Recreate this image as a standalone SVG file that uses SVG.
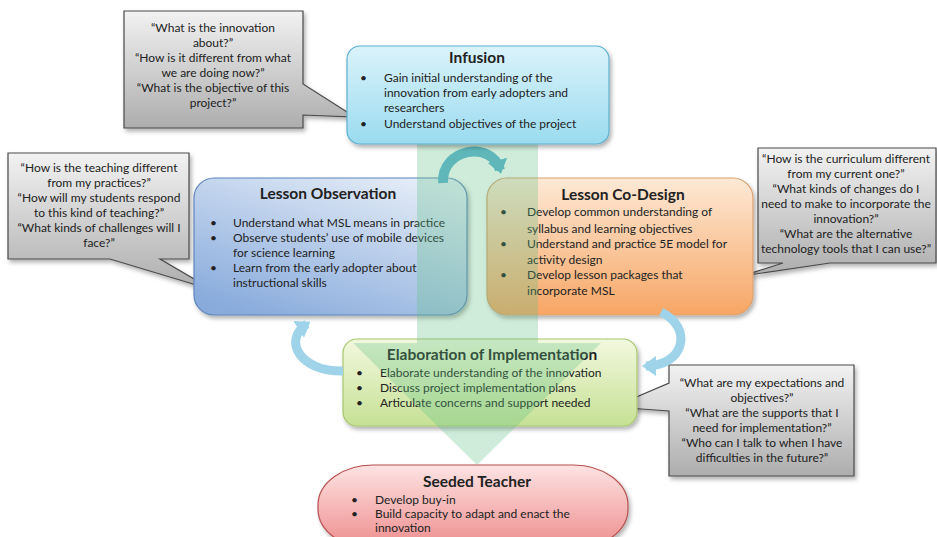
<svg xmlns="http://www.w3.org/2000/svg" width="937" height="537" viewBox="0 0 937 537">
<defs>
  <linearGradient id="gInf" x1="0" y1="0" x2="0" y2="1"><stop offset="0" stop-color="#dbf3fb"/><stop offset="1" stop-color="#9adbef"/></linearGradient>
  <linearGradient id="gObs" x1="0.8" y1="0" x2="0.2" y2="1"><stop offset="0" stop-color="#e4ecf7"/><stop offset="1" stop-color="#88abdc"/></linearGradient>
  <linearGradient id="gCo" x1="0" y1="0" x2="0" y2="1"><stop offset="0" stop-color="#fde9d6"/><stop offset="1" stop-color="#f7a665"/></linearGradient>
  <linearGradient id="gEl" x1="0" y1="0" x2="0" y2="1"><stop offset="0" stop-color="#f2f8de"/><stop offset="1" stop-color="#c6e195"/></linearGradient>
  <linearGradient id="gSd" x1="0" y1="0" x2="0" y2="1"><stop offset="0" stop-color="#fde3e3"/><stop offset="1" stop-color="#ee8c8c"/></linearGradient>
  <linearGradient id="gCall" x1="0" y1="0" x2="0" y2="1"><stop offset="0" stop-color="#f2f2f2"/><stop offset="1" stop-color="#adadad"/></linearGradient>
  <filter id="sh" x="-10%" y="-10%" width="130%" height="140%"><feDropShadow dx="2" dy="3" stdDeviation="2" flood-color="#000" flood-opacity="0.3"/></filter>
  <marker id="mTeal" markerUnits="userSpaceOnUse" markerWidth="22" markerHeight="22" refX="10" refY="11" orient="auto"><path d="M0 1 L14 11 L0 21 Z" fill="#5fb7b9"/></marker>
  <marker id="mBlue" markerUnits="userSpaceOnUse" markerWidth="22" markerHeight="22" refX="10" refY="11" orient="auto"><path d="M0 1 L14 11 L0 21 Z" fill="#9fd3ea"/></marker>
</defs>
<style>
  text{font-family:Lato,"Liberation Sans",sans-serif;fill:#222}
  .t{font-size:15.5px;font-weight:bold;text-anchor:middle}
  .b{font-size:12px}
  .c{font-size:12px;text-anchor:middle}
  .callout{fill:url(#gCall);stroke:#4a4a4a;stroke-width:1.2;filter:url(#sh)}
</style>
<rect width="937" height="537" fill="#fff"/>

<g id="callout-infusion">
  <path class="callout" d="M124 11 H303 V84 L355 117 L303 115 V128 H124 Z"/>
  <text class="c" x="213" y="32">“What is the innovation</text>
  <text class="c" x="213" y="47">about?”</text>
  <text class="c" x="213" y="62">“How is it different from what</text>
  <text class="c" x="213" y="77">we are doing now?”</text>
  <text class="c" x="213" y="92">“What is the objective of this</text>
  <text class="c" x="213" y="107">project?”</text>
</g>

<g id="callout-observation">
  <path class="callout" d="M8 153 H189 V259 H160 L213 290 L110 259 H8 Z"/>
  <text class="c" x="99" y="172">“How is the teaching different</text>
  <text class="c" x="99" y="187">from my practices?”</text>
  <text class="c" x="99" y="202">“How will my students respond</text>
  <text class="c" x="99" y="217">to this kind of teaching?”</text>
  <text class="c" x="99" y="232">“What kinds of challenges will I</text>
  <text class="c" x="99" y="247">face?”</text>
</g>

<g id="callout-codesign">
  <path class="callout" d="M758 148 H936 V263 H830 L742 276 L783 263 H758 Z"/>
  <text class="c" x="846" y="163">“How is the curriculum different</text>
  <text class="c" x="846" y="178">from my current one?”</text>
  <text class="c" x="846" y="193">“What kinds of changes do I</text>
  <text class="c" x="846" y="208">need to make to incorporate the</text>
  <text class="c" x="846" y="223">innovation?”</text>
  <text class="c" x="846" y="238">“What are the alternative</text>
  <text class="c" x="846" y="253">technology tools that I can use?”</text>
</g>

<g id="callout-elaboration">
  <path class="callout" d="M669 365 H854 V476 H669 V411 L613 407 L669 383 Z"/>
  <text class="c" x="762" y="387">“What are my expectations and</text>
  <text class="c" x="762" y="402">objectives?”</text>
  <text class="c" x="762" y="417">“What are the supports that I</text>
  <text class="c" x="762" y="432">need for implementation?”</text>
  <text class="c" x="762" y="447">“Who can I talk to when I have</text>
  <text class="c" x="762" y="462">difficulties in the future?”</text>
</g>

<g id="lesson-observation">
  <rect x="194" y="178" width="273" height="137" rx="20" fill="url(#gObs)" stroke="#5f86bb" stroke-width="1.2" filter="url(#sh)"/>
  <text class="t" x="328" y="199">Lesson Observation</text>
  <text class="b" x="210" y="227">•</text><text class="b" x="233" y="227">Understand what MSL means in practice</text>
  <text class="b" x="210" y="242">•</text><text class="b" x="233" y="242">Observe students’ use of mobile devices</text>
  <text class="b" x="233" y="257">for science learning</text>
  <text class="b" x="210" y="272">•</text><text class="b" x="233" y="272">Learn from the early adopter about</text>
  <text class="b" x="233" y="287">instructional skills</text>
</g>

<g id="lesson-codesign">
  <rect x="487" y="178" width="266" height="137" rx="20" fill="url(#gCo)" stroke="#dba170" stroke-width="1.2" filter="url(#sh)"/>
  <text class="t" x="623" y="200">Lesson Co-Design</text>
  <text class="b" x="500" y="216">•</text><text class="b" x="527" y="216">Develop common understanding  of</text>
  <text class="b" x="527" y="233">syllabus and learning objectives</text>
  <text class="b" x="500" y="248">•</text><text class="b" x="527" y="248">Understand and practice 5E model for</text>
  <text class="b" x="527" y="264">activity design</text>
  <text class="b" x="500" y="279">•</text><text class="b" x="527" y="279">Develop lesson packages that</text>
  <text class="b" x="527" y="295">incorporate MSL</text>
</g>

<g id="elaboration">
  <rect x="343" y="339" width="294" height="87" rx="14" fill="url(#gEl)" stroke="#a9c76f" stroke-width="1.2" filter="url(#sh)"/>
  <text class="t" x="492" y="360">Elaboration of Implementation</text>
  <text class="b" x="356" y="377">•</text><text class="b" x="380" y="377">Elaborate understanding of the innovation</text>
  <text class="b" x="356" y="392">•</text><text class="b" x="380" y="392">Discuss project implementation plans</text>
  <text class="b" x="356" y="407">•</text><text class="b" x="380" y="407">Articulate concerns and support needed</text>
</g>

<g id="seeded-teacher">
  <rect x="318" y="465" width="310" height="84" rx="55" ry="40" fill="url(#gSd)" stroke="#b8504f" stroke-width="1.2" filter="url(#sh)"/>
  <text class="t" x="477" y="487">Seeded Teacher</text>
  <text class="b" x="351" y="504">•</text><text class="b" x="375" y="504">Develop buy-in</text>
  <text class="b" x="351" y="518">•</text><text class="b" x="375" y="518">Build capacity to adapt and enact the</text>
  <text class="b" x="375" y="532">innovation</text>
</g>

<g id="connectors">
  <path d="M417 95 H538 V343 H601 L477 465 L353 343 H417 Z" fill="#5fbf85" fill-opacity="0.3"/>
  <path d="M443 183 C441 148 492 140 500 170" fill="none" stroke="#5fb7b9" stroke-width="10" marker-end="url(#mTeal)"/>
  <path d="M343 371 C300 372 282 340 307 324" fill="none" stroke="#9fd3ea" stroke-width="9" marker-end="url(#mBlue)"/>
  <path d="M661 312 C694 328 684 366 646 366" fill="none" stroke="#9fd3ea" stroke-width="9" marker-end="url(#mBlue)"/>
</g>

<g id="infusion">
  <rect x="347" y="46" width="262" height="98" rx="13" fill="url(#gInf)" stroke="#5fb0d0" stroke-width="1.2" filter="url(#sh)"/>
  <text class="t" x="477" y="63">Infusion</text>
  <text class="b" x="360" y="82">•</text><text class="b" x="384" y="82">Gain initial understanding of the</text>
  <text class="b" x="384" y="97">innovation from early adopters and</text>
  <text class="b" x="384" y="112">researchers</text>
  <text class="b" x="360" y="128">•</text><text class="b" x="384" y="128">Understand objectives of the project</text>
</g>
</svg>
